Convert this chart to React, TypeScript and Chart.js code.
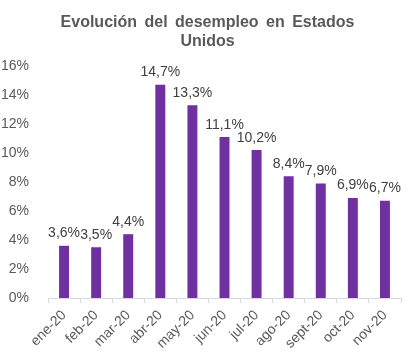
import React, { useEffect, useRef } from "react";
import { Chart, registerables } from "chart.js";

Chart.register(...registerables);

const categories = ["ene-20", "feb-20", "mar-20", "abr-20", "may-20", "jun-20", "jul-20", "ago-20", "sept-20", "oct-20", "nov-20"];
const unemployment = [3.6, 3.5, 4.4, 14.7, 13.3, 11.1, 10.2, 8.4, 7.9, 6.9, 6.7];
const titleLines = ["Evolución del desempleo en Estados", "Unidos"];

const FONT = "'Liberation Sans', Arial, sans-serif";

const labelPlugin = {
  id: "barLabels",
  afterDatasetsDraw(chart: any) {
    const ctx = chart.ctx;
    const meta = chart.getDatasetMeta(0);
    ctx.save();
    ctx.font = `14px ${FONT}`;
    ctx.fillStyle = "#404040";
    ctx.textAlign = "center";
    ctx.textBaseline = "alphabetic";
    meta.data.forEach((el: any, i: number) => {
      const v = unemployment[i];
      const txt = v.toFixed(1).replace(".", ",") + "%";
      ctx.fillText(txt, el.x, el.y - 8.5);
    });
    ctx.restore();
  },
};

const titlePlugin = {
  id: "customTitle",
  afterDraw(chart: any) {
    const ctx = chart.ctx;
    ctx.save();
    ctx.font = `bold 16px ${FONT}`;
    ctx.fillStyle = "#595959";
    ctx.textAlign = "center";
    ctx.textBaseline = "alphabetic";
    try {
      (ctx as any).wordSpacing = "3px";
    } catch (e) {}
    titleLines.forEach((line, i) => {
      ctx.fillText(line, 207.5, 27 + i * 18.5);
    });
    ctx.restore();
  },
};

export default function App() {
  const ref = useRef<HTMLCanvasElement>(null);
  useEffect(() => {
    document.body.style.margin = "0";
    const chart = new Chart(ref.current!, {
      type: "bar",
      data: {
        labels: categories,
        datasets: [
          {
            data: unemployment,
            backgroundColor: "#7030A0",
            barPercentage: 0.62,
            categoryPercentage: 0.5,
          },
        ],
      },
      options: {
        animation: false,
        responsive: false,
        layout: { padding: { left: 0, right: 15, top: 66, bottom: 0 } },
        plugins: {
          legend: { display: false },
          tooltip: { enabled: false },
          title: { display: false },
        },
        scales: {
          x: {
            afterFit: (s: any) => {
              s.height = 62;
            },
            grid: { drawOnChartArea: false, drawTicks: true, tickLength: 5, color: "#d9d9d9", offset: true },
            border: { color: "#d9d9d9" },
            ticks: {
              color: "#595959",
              font: { family: FONT, size: 14 },
              minRotation: 45,
              maxRotation: 45,
              autoSkip: false,
              padding: 4,
            },
          },
          y: {
            min: 0,
            max: 16,
            afterFit: (s: any) => {
              s.width = 48;
            },
            grid: { display: false },
            border: { display: false },
            ticks: {
              stepSize: 2,
              color: "#595959",
              font: { family: FONT, size: 14 },
              padding: 11,
              callback: (v: any) => v + "%",
            },
          },
        },
      },
      plugins: [labelPlugin, titlePlugin],
    });
    return () => chart.destroy();
  }, []);
  return (
    <div style={{ width: 416, height: 360 }}>
      <canvas ref={ref} width={416} height={360} />
    </div>
  );
}
